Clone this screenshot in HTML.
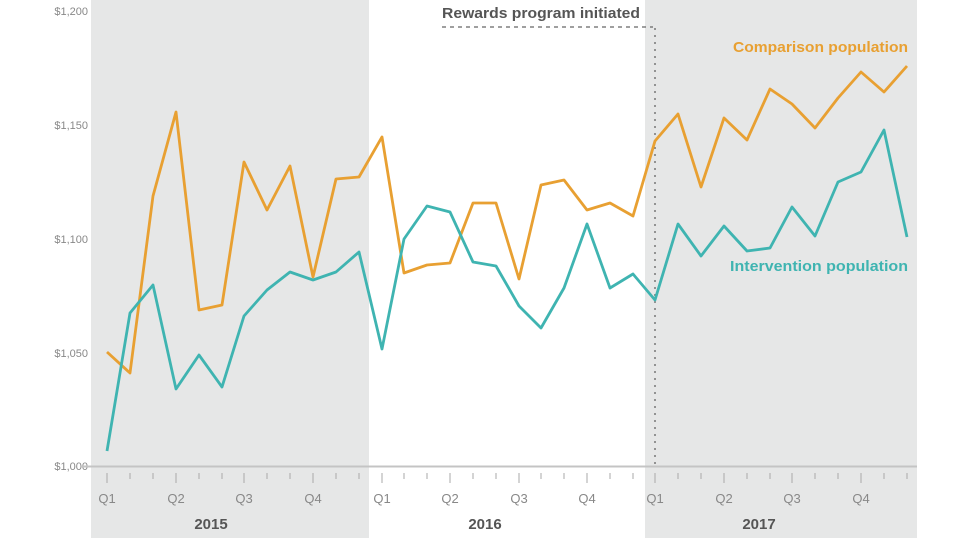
<!DOCTYPE html>
<html><head><meta charset="utf-8"><style>
html,body{margin:0;padding:0;background:#fff;}
svg{display:block;font-family:"Liberation Sans",sans-serif;}
</style></head><body>
<svg width="960" height="542" viewBox="0 0 960 542">
<rect x="91" y="0" width="278" height="538" fill="#e6e7e7"/>
<rect x="645" y="0" width="272" height="538" fill="#e6e7e7"/>
<g font-size="11" fill="#888" text-anchor="end">
<text x="88" y="15">$1,200</text>
<text x="88" y="129">$1,150</text>
<text x="88" y="243">$1,100</text>
<text x="88" y="357">$1,050</text>
<text x="88" y="470">$1,000</text>
</g>
<line x1="80" y1="466.5" x2="917" y2="466.5" stroke="#c4c4c4" stroke-width="2"/>
<g font-size="13" fill="#888" text-anchor="middle">
<text x="107" y="503">Q1</text><text x="176" y="503">Q2</text><text x="244" y="503">Q3</text><text x="313" y="503">Q4</text>
<text x="382" y="503">Q1</text><text x="450" y="503">Q2</text><text x="519" y="503">Q3</text><text x="587" y="503">Q4</text>
<text x="655" y="503">Q1</text><text x="724" y="503">Q2</text><text x="792" y="503">Q3</text><text x="861" y="503">Q4</text>
</g>
<g font-size="15" font-weight="bold" fill="#555" text-anchor="middle">
<text x="211" y="529">2015</text><text x="485" y="529">2016</text><text x="759" y="529">2017</text>
</g>
<line x1="442" y1="27" x2="653" y2="27" stroke="#666" stroke-width="1.2" stroke-dasharray="4,4"/>
<line x1="655" y1="28" x2="655" y2="466" stroke="#777" stroke-width="1.5" stroke-dasharray="2,5"/>
<text x="442" y="18" font-size="15" font-weight="bold" fill="#555" textLength="198" lengthAdjust="spacingAndGlyphs">Rewards program initiated</text>
<text x="908" y="52" font-size="15" font-weight="bold" fill="#e8a032" text-anchor="end" textLength="175" lengthAdjust="spacingAndGlyphs">Comparison population</text>
<text x="908" y="271" font-size="15" font-weight="bold" fill="#3fb4b1" text-anchor="end" textLength="178" lengthAdjust="spacingAndGlyphs">Intervention population</text>
<polyline fill="none" stroke="#e8a032" stroke-width="2.8" stroke-linejoin="round" points="107,352 130,373 153,196 176,112 199,310 222,305 244,162 267,210 290,166 313,277 336,179 359,177 382,137 404,273 427,265 450,263 473,203 496,203 519,279 541,185 564,180 587,210 610,203 633,216 655,141 678,114 701,187 724,118 747,140 770,89 792,104 815,128 838,98 861,72 884,92 907,66"/>
<polyline fill="none" stroke="#3fb4b1" stroke-width="2.8" stroke-linejoin="round" points="107,451 130,313 153,285 176,389 199,355 222,387 244,316 267,290 290,272 313,280 336,272 359,252 382,349 404,239 427,206 450,212 473,262 496,266 519,306 541,328 564,288 587,224 610,288 633,274 655,300 678,224 701,256 724,226 747,251 770,248 792,207 815,236 838,182 861,172 884,130 907,237"/>
<g stroke="#aaa" stroke-width="1">
<line x1="107" y1="473" x2="107" y2="483"/><line x1="130" y1="473" x2="130" y2="479"/><line x1="153" y1="473" x2="153" y2="479"/>
<line x1="176" y1="473" x2="176" y2="483"/><line x1="199" y1="473" x2="199" y2="479"/><line x1="222" y1="473" x2="222" y2="479"/>
<line x1="244" y1="473" x2="244" y2="483"/><line x1="267" y1="473" x2="267" y2="479"/><line x1="290" y1="473" x2="290" y2="479"/>
<line x1="313" y1="473" x2="313" y2="483"/><line x1="336" y1="473" x2="336" y2="479"/><line x1="359" y1="473" x2="359" y2="479"/>
<line x1="382" y1="473" x2="382" y2="483"/><line x1="404" y1="473" x2="404" y2="479"/><line x1="427" y1="473" x2="427" y2="479"/>
<line x1="450" y1="473" x2="450" y2="483"/><line x1="473" y1="473" x2="473" y2="479"/><line x1="496" y1="473" x2="496" y2="479"/>
<line x1="519" y1="473" x2="519" y2="483"/><line x1="541" y1="473" x2="541" y2="479"/><line x1="564" y1="473" x2="564" y2="479"/>
<line x1="587" y1="473" x2="587" y2="483"/><line x1="610" y1="473" x2="610" y2="479"/><line x1="633" y1="473" x2="633" y2="479"/>
<line x1="655" y1="473" x2="655" y2="483"/><line x1="678" y1="473" x2="678" y2="479"/><line x1="701" y1="473" x2="701" y2="479"/>
<line x1="724" y1="473" x2="724" y2="483"/><line x1="747" y1="473" x2="747" y2="479"/><line x1="770" y1="473" x2="770" y2="479"/>
<line x1="792" y1="473" x2="792" y2="483"/><line x1="815" y1="473" x2="815" y2="479"/><line x1="838" y1="473" x2="838" y2="479"/>
<line x1="861" y1="473" x2="861" y2="483"/><line x1="884" y1="473" x2="884" y2="479"/><line x1="907" y1="473" x2="907" y2="479"/>
</g>
</svg>
</body></html>
